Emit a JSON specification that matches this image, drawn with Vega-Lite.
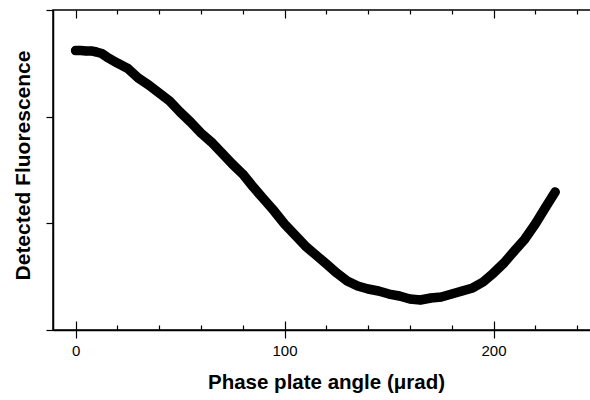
{
  "$schema": "https://vega.github.io/schema/vega-lite/v6.json",
  "width": 538,
  "height": 320,
  "autosize": "none",
  "padding": {"left": 53, "top": 10, "right": 0, "bottom": 70},
  "background": "white",
  "config": {
    "view": {"stroke": "black", "strokeWidth": 1.5},
    "axis": {
      "domainColor": "black", "tickColor": "black", "labelColor": "black", "titleColor": "black",
      "domainWidth": 1.5, "tickWidth": 1.2,
      "labelFont": "Liberation Sans", "titleFont": "Liberation Sans"
    }
  },
  "data": {"values": [
    {"angle": 0, "fluor": 2.620},
    {"angle": 2.5, "fluor": 2.620},
    {"angle": 5, "fluor": 2.616},
    {"angle": 7.5, "fluor": 2.616},
    {"angle": 10, "fluor": 2.606},
    {"angle": 12.5, "fluor": 2.592},
    {"angle": 15, "fluor": 2.559},
    {"angle": 20, "fluor": 2.503},
    {"angle": 25, "fluor": 2.452},
    {"angle": 30, "fluor": 2.362},
    {"angle": 35, "fluor": 2.297},
    {"angle": 40, "fluor": 2.222},
    {"angle": 45, "fluor": 2.147},
    {"angle": 50, "fluor": 2.044},
    {"angle": 55, "fluor": 1.950},
    {"angle": 60, "fluor": 1.847},
    {"angle": 65, "fluor": 1.762},
    {"angle": 70, "fluor": 1.659},
    {"angle": 75, "fluor": 1.556},
    {"angle": 80, "fluor": 1.462},
    {"angle": 85, "fluor": 1.341},
    {"angle": 90, "fluor": 1.228},
    {"angle": 95, "fluor": 1.116},
    {"angle": 100, "fluor": 0.994},
    {"angle": 105, "fluor": 0.891},
    {"angle": 110, "fluor": 0.787},
    {"angle": 115, "fluor": 0.703},
    {"angle": 120, "fluor": 0.619},
    {"angle": 125, "fluor": 0.534},
    {"angle": 130, "fluor": 0.459},
    {"angle": 135, "fluor": 0.412},
    {"angle": 140, "fluor": 0.384},
    {"angle": 145, "fluor": 0.366},
    {"angle": 150, "fluor": 0.337},
    {"angle": 155, "fluor": 0.319},
    {"angle": 160, "fluor": 0.291},
    {"angle": 165, "fluor": 0.281},
    {"angle": 170, "fluor": 0.300},
    {"angle": 175, "fluor": 0.309},
    {"angle": 180, "fluor": 0.337},
    {"angle": 185, "fluor": 0.366},
    {"angle": 190, "fluor": 0.394},
    {"angle": 195, "fluor": 0.450},
    {"angle": 200, "fluor": 0.534},
    {"angle": 205, "fluor": 0.628},
    {"angle": 210, "fluor": 0.741},
    {"angle": 215, "fluor": 0.853},
    {"angle": 220, "fluor": 0.994},
    {"angle": 225, "fluor": 1.153},
    {"angle": 228, "fluor": 1.247},
    {"angle": 229.5, "fluor": 1.294}
  ]},
  "encoding": {
    "x": {
      "field": "angle", "type": "quantitative",
      "scale": {"domain": [-10.8, 246.65], "nice": false, "zero": false},
      "axis": {
        "orient": "bottom",
        "values": [0, 20, 40, 60, 80, 100, 120, 140, 160, 180, 200, 220, 240],
        "labelExpr": "datum.value % 100 === 0 ? datum.label : ''",
        "tickSize": {"condition": {"test": "datum.value % 100 === 0", "value": 8}, "value": 0},
        "labelFontSize": 15, "labelPadding": 5,
        "grid": true, "gridColor": "black", "gridWidth": 1.2, "gridOpacity": 1,
        "gridDash": {"condition": {"test": "datum.value % 100 === 0", "value": [8, 303, 9]}, "value": [4, 311, 5]},
        "title": "Phase plate angle (μrad)", "titleFontSize": 20.5, "titleFontWeight": "bold", "titlePadding": 14,
        "titleX": 273
      }
    },
    "y": {
      "field": "fluor", "type": "quantitative",
      "scale": {"domain": [0, 3], "nice": false, "zero": false},
      "axis": {
        "orient": "left", "values": [0, 1, 2, 3], "labels": false, "tickSize": 7, "grid": false,
        "title": "Detected Fluorescence", "titleFontSize": 21, "titleFontWeight": "bold", "titlePadding": 12,
        "titleY": 155
      }
    }
  },
  "layer": [
    {
      "mark": {"type": "line", "color": "black", "strokeWidth": 9.5, "strokeCap": "round", "strokeJoin": "round"}
    },
    {
      "mark": {"type": "circle", "color": "black", "opacity": 1, "size": 72}
    }
  ]
}
